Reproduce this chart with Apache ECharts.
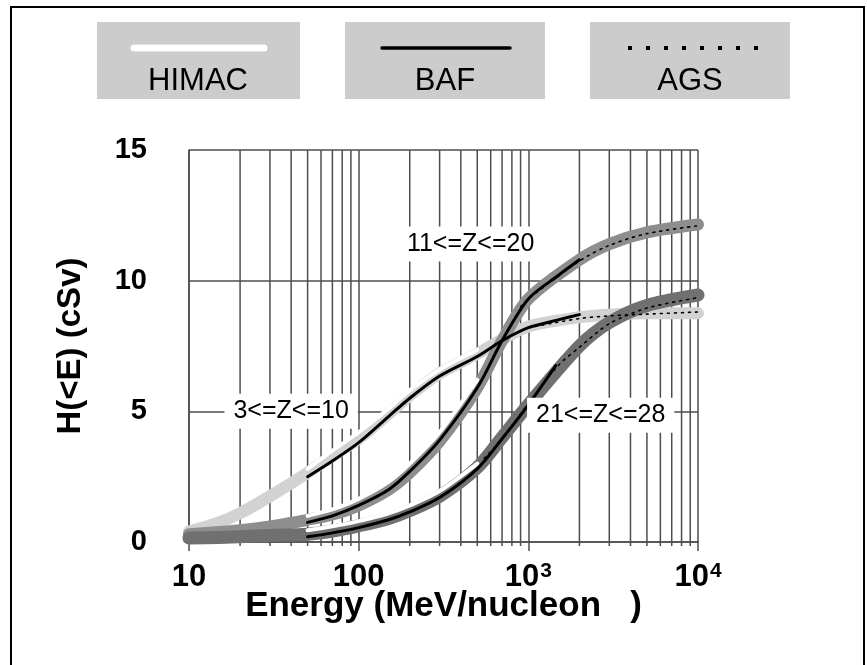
<!DOCTYPE html>
<html>
<head>
<meta charset="utf-8">
<script src="https://cdn.jsdelivr.net/npm/echarts@6/dist/echarts.min.js"></script>
<style>
  html, body { margin: 0; padding: 0; background: #fff; }
  #chart { width: 867px; height: 665px; }
</style>
</head>
<body>
<div id="chart"></div>
<script>
// energies (MeV/nucleon) and dose values
const bandE = [10, 15, 20, 30, 50, 70, 100, 150, 200, 300, 500, 700, 1000, 2000, 3000, 5000, 10000];
const band3to10 = [0.4, 0.75, 1.1, 1.75, 2.65, 3.3, 3.95, 4.9, 5.6, 6.45, 7.2, 7.75, 8.25, 8.6, 8.7, 8.75, 8.75];
const band11to20 = [0.3, 0.38, 0.45, 0.6, 0.85, 1.05, 1.4, 2.0, 2.65, 3.85, 5.9, 7.7, 9.3, 10.8, 11.4, 11.85, 12.15];
const band21to28 = [0.15, 0.17, 0.2, 0.25, 0.3, 0.42, 0.62, 0.9, 1.2, 1.75, 2.85, 4.0, 5.25, 7.5, 8.4, 9.05, 9.45];

const himacE = [50, 70, 100, 150, 200, 300, 500];
const himac3to10 = [2.8, 3.5, 4.2, 5.1, 5.8, 6.6, 7.35];
const himac11to20 = [1.0, 1.25, 1.65, 2.3, 3.0, 4.2, 6.2];
const himac21to28 = [0.45, 0.6, 0.8, 1.1, 1.4, 1.95, 3.0];

const bafE = [50, 70, 100, 150, 200, 300, 500, 700, 1000, 1500, 2000];
const baf3to10 = [2.5, 3.1, 3.8, 4.8, 5.5, 6.35, 7.1, 7.7, 8.2, 8.5, 8.7];
const baf11to20 = [0.75, 1.0, 1.4, 2.0, 2.7, 3.9, 5.9, 7.7, 9.3, 10.2, 10.8];
const bafE21 = [50, 70, 100, 150, 200, 300, 500, 700, 1000, 1450];
const baf21to28 = [0.2, 0.35, 0.55, 0.85, 1.15, 1.7, 2.8, 3.95, 5.25, 6.75];

const agsE3 = [1000, 2000, 3000, 5000, 10000];
const ags3to10 = [8.2, 8.55, 8.65, 8.72, 8.8];
const agsE11 = [900, 1000, 2000, 3000, 5000, 10000];
const ags11to20 = [9.0, 9.3, 10.75, 11.35, 11.8, 12.1];
const agsE21 = [550, 700, 1000, 1500, 2000, 3000, 5000, 10000];
const ags21to28 = [3.2, 3.95, 5.3, 6.75, 7.45, 8.35, 8.95, 9.35];

const minorGrid = [20, 30, 40, 50, 60, 70, 80, 90, 200, 300, 400, 500, 600, 700, 800, 900,
  2000, 3000, 4000, 5000, 6000, 7000, 8000, 9000];

const zoneLabels = ['3<=Z<=10', '11<=Z<=20', '21<=Z<=28'];
const zoneAt = [[40, 5.0], [457, 11.4], [2670, 4.85]];

const legendNames = ['HIMAC', 'BAF', 'AGS'];

const FONT = '"Liberation Sans", Arial, sans-serif';

function pairs(xs, ys) {
  return xs.map((x, i) => [x, ys[i]]);
}

function curve(name, xs, ys, color, width, z, dash) {
  return {
    name: name,
    type: 'line',
    data: pairs(xs, ys),
    showSymbol: false,
    smooth: 0.3,
    clip: false,
    silent: true,
    z: z,
    lineStyle: { color: color, width: width, cap: 'round', join: 'round', type: dash || 'solid' }
  };
}

var chart = echarts.init(document.getElementById('chart'));

var option = {
  animation: false,
  textStyle: { fontFamily: FONT },
  grid: { left: 189, right: 169, top: 150, bottom: 123 },
  xAxis: {
    type: 'log',
    logBase: 10,
    min: 10,
    max: 10000,
    name: 'Energy (MeV/nucleon   )',
    nameLocation: 'middle',
    nameGap: 47,
    nameMoveOverlap: false,
    nameTextStyle: { fontSize: 35, fontWeight: 'bold', color: '#000', fontFamily: FONT },
    axisLine: { lineStyle: { color: '#4d4d4d', width: 1.5 } },
    axisTick: { show: true, length: 9, lineStyle: { color: '#4d4d4d', width: 1.5 } },
    splitLine: { show: true, lineStyle: { color: '#4d4d4d', width: 1.5 } },
    axisLabel: {
      margin: 19,
      color: '#000',
      formatter: function (v) {
        var p = Math.round(Math.log10(v));
        if (p <= 2) return '{b|' + Math.pow(10, p) + '}';
        return '{b|10}{s|' + p + '}';
      },
      rich: {
        b: { fontSize: 31, fontWeight: 'bold', fontFamily: FONT, color: '#000', lineHeight: 32 },
        s: { fontSize: 21, fontWeight: 'bold', fontFamily: FONT, color: '#000', verticalAlign: 'top', lineHeight: 32, padding: [0, 0, 12, 1] }
      }
    }
  },
  yAxis: {
    type: 'value',
    min: 0,
    max: 15,
    interval: 5,
    name: 'H(<E) (cSv)',
    nameLocation: 'middle',
    nameGap: 102,
    nameMoveOverlap: false,
    nameRotate: 90,
    nameTextStyle: { fontSize: 33, fontWeight: 'bold', color: '#000', fontFamily: FONT },
    axisLine: { show: true, lineStyle: { color: '#4d4d4d', width: 1.5 } },
    axisTick: { show: false },
    splitLine: { show: true, lineStyle: { color: '#4d4d4d', width: 1.5 } },
    axisLabel: { margin: 42, fontSize: 29, fontWeight: 'bold', color: '#000', fontFamily: FONT }
  },
  graphic: [
    // outer frame
    { type: 'rect', shape: { x: 11, y: 7, width: 853, height: 680 }, style: { fill: null, stroke: '#000', lineWidth: 2 }, z: 0 },
    // legend boxes
    { type: 'rect', shape: { x: 97, y: 22, width: 203, height: 77 }, style: { fill: '#cccccc' } },
    { type: 'rect', shape: { x: 345, y: 22, width: 200, height: 77 }, style: { fill: '#cccccc' } },
    { type: 'rect', shape: { x: 590, y: 22, width: 200, height: 77 }, style: { fill: '#cccccc' } },
    { type: 'line', shape: { x1: 134, y1: 48, x2: 264, y2: 48 }, style: { stroke: '#fff', lineWidth: 7, lineCap: 'round' } },
    { type: 'line', shape: { x1: 382, y1: 48, x2: 510, y2: 48 }, style: { stroke: '#000', lineWidth: 3.5, lineCap: 'round' } },
    { type: 'line', shape: { x1: 628, y1: 48, x2: 760, y2: 48 }, style: { stroke: '#000', lineWidth: 4, lineDash: [4, 14] } },
    { type: 'text', style: { x: 198, y: 81, text: legendNames[0], font: '31px ' + FONT, fill: '#000', textAlign: 'center', textVerticalAlign: 'middle' } },
    { type: 'text', style: { x: 445, y: 81, text: legendNames[1], font: '31px ' + FONT, fill: '#000', textAlign: 'center', textVerticalAlign: 'middle' } },
    { type: 'text', style: { x: 690, y: 81, text: legendNames[2], font: '31px ' + FONT, fill: '#000', textAlign: 'center', textVerticalAlign: 'middle' } }
  ],
  series: [
    {
      // minor log gridlines with short ticks under the axis
      type: 'custom',
      silent: true,
      clip: false,
      z: 1,
      data: minorGrid.map(function (v) { return [v]; }),
      encode: { x: 0 },
      renderItem: function (params, api) {
        var v = api.value(0);
        var top = api.coord([v, 15]);
        var bot = api.coord([v, 0]);
        return {
          type: 'line',
          shape: { x1: top[0], y1: top[1], x2: bot[0], y2: bot[1] + 4 },
          style: { stroke: '#4d4d4d', lineWidth: 1.5 }
        };
      }
    },
    curve('band 3-10', bandE, band3to10, '#d2d2d2', 12, 2),
    curve('band 11-20', bandE, band11to20, '#8e8e8e', 12, 2),
    curve('band 21-28', bandE, band21to28, '#707070', 13, 2),
    curve('HIMAC', himacE, himac3to10, '#ffffff', 4, 3),
    curve('HIMAC', himacE, himac11to20, '#ffffff', 4, 3),
    curve('HIMAC', himacE, himac21to28, '#ffffff', 4, 3),
    curve('BAF', bafE, baf3to10, '#000000', 3, 4),
    curve('BAF', bafE, baf11to20, '#000000', 3, 4),
    curve('BAF', bafE21, baf21to28, '#000000', 3, 4),
    curve('AGS', agsE3, ags3to10, '#000000', 1.6, 5, [2, 5]),
    curve('AGS', agsE11, ags11to20, '#000000', 1.6, 5, [2, 5]),
    curve('AGS', agsE21, ags21to28, '#000000', 1.6, 5, [2, 5]),
    {
      type: 'scatter',
      silent: true,
      z: 10,
      symbol: 'rect',
      symbolSize: 1,
      itemStyle: { color: '#ffffff', opacity: 1 },
      emphasis: { disabled: true },
      data: zoneAt.map(function (p, i) { return { value: p, name: zoneLabels[i] }; }),
      label: {
        show: true,
        position: 'inside',
        formatter: '{b}',
        fontSize: 25,
        color: '#000',
        opacity: 1,
        fontFamily: FONT,
        backgroundColor: '#ffffff',
        padding: [5, 9]
      }
    }
  ]
};

chart.setOption(option);
</script>
</body>
</html>
